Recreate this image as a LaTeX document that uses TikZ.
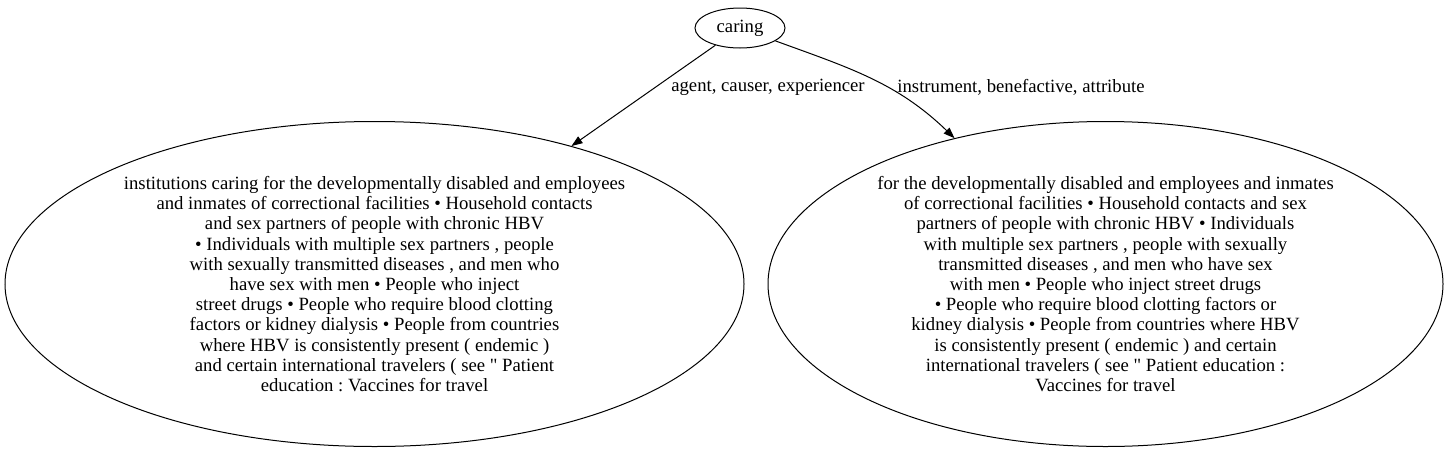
\documentclass[tikz,border=0pt]{standalone}
\usepackage{fontspec}
\setmainfont{Liberation Serif}
\usetikzlibrary{arrows.meta,shapes.geometric}
\frenchspacing

\begin{document}
\begin{tikzpicture}[
        x=1pt, y=-1pt,
    every path/.style={line width=1pt},
    every node/.style={ellipse,draw,inner sep=0pt,align=center,
        font=\fontsize{18.7}{20.2}\selectfont},
    lbl/.style={draw=none,ellipse,fill=none},
    >={Triangle[length=11pt,width=8pt]}
]
\useasboundingbox (0,0) rectangle (1448,453);

    \node (caring) [minimum width=90pt,minimum height=40pt] at (740,28) {caring};
    \node (agent) [minimum width=739pt,minimum height=325pt] at (374.5,284) {%
        institutions caring for the developmentally disabled and employees\\
        and inmates of correctional facilities • Household contacts\\
        and sex partners of people with chronic HBV\\
        • Individuals with multiple sex partners , people\\
        with sexually transmitted diseases , and men who\\
        have sex with men • People who inject\\
        street drugs • People who require blood clotting\\
        factors or kidney dialysis • People from countries\\
        where HBV is consistently present ( endemic )\\
        and certain international travelers ( see \textquotedbl{} Patient\\
        education : Vaccines for travel};
    \node (instr) [minimum width=675pt,minimum height=325pt] at (1105.5,284) {%
        for the developmentally disabled and employees and inmates\\
        of correctional facilities • Household contacts and sex\\
        partners of people with chronic HBV • Individuals\\
        with multiple sex partners , people with sexually\\
        transmitted diseases , and men who have sex\\
        with men • People who inject street drugs\\
        • People who require blood clotting factors or\\
        kidney dialysis • People from countries where HBV\\
        is consistently present ( endemic ) and certain\\
        international travelers ( see \textquotedbl{} Patient education :\\
        Vaccines for travel};

    \draw [->] (caring) -- (agent);
    \node [lbl] at (768,87) {agent, causer, experiencer};
    \draw [->] (caring)
        to [out=-20,in=136] (instr)
    ;
    \node [lbl] at (1021,87) {instrument, benefactive, attribute};
  \end{tikzpicture}
\end{document}
